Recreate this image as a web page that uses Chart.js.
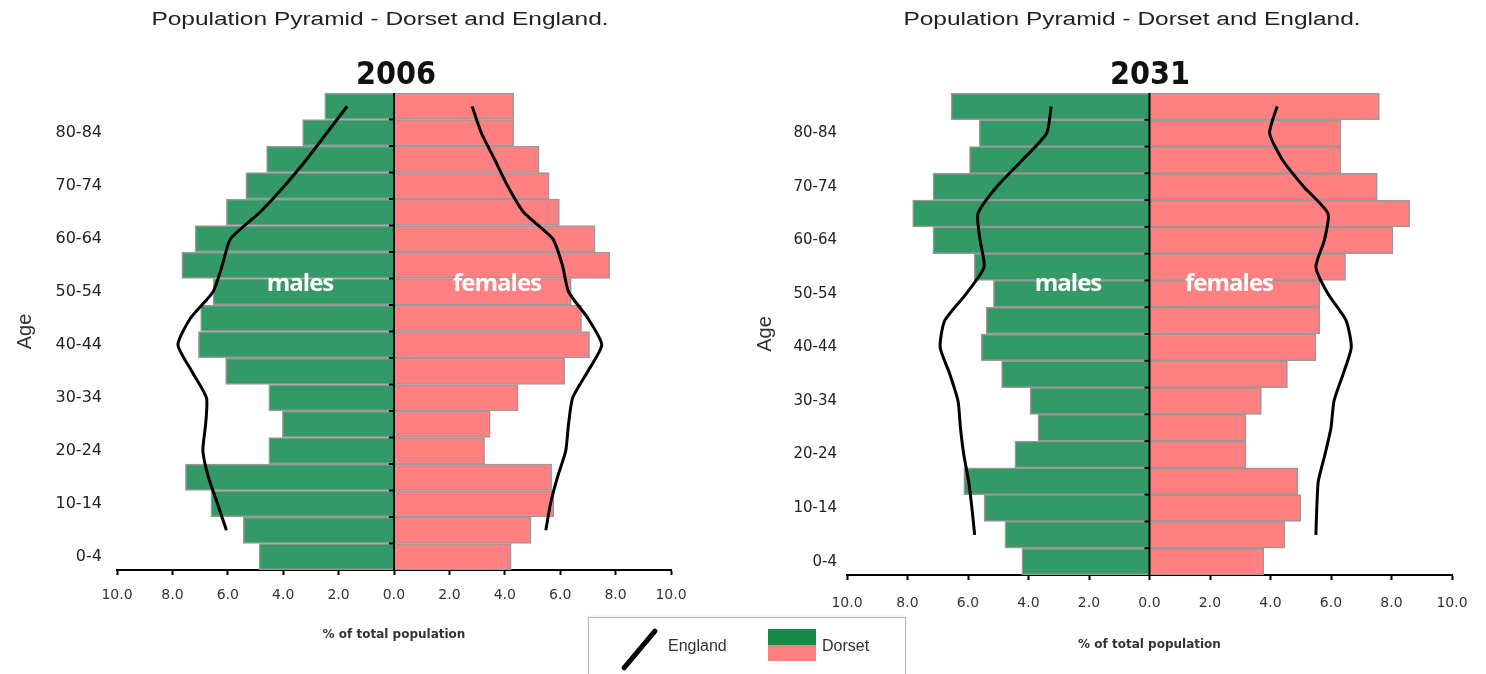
<!DOCTYPE html>
<html lang="en">
<head>
  <meta charset="UTF-8">
  <title>Population Pyramid - Dorset and England</title>
  <script src="https://cdn.jsdelivr.net/npm/chart.js"></script>
  <style>
    body {
      margin: 0;
      width: 1486px;
      height: 674px;
      background: #fff;
      position: relative;
      overflow: hidden;
      font-family: 'Liberation Sans', Arial, sans-serif;
      color: #222;
    }
    .panel {
      position: absolute;
      top: 0;
      width: 743px;
      height: 674px;
    }
    .txt {
      position: absolute;
      white-space: nowrap;
      transform: translateX(-50%);
    }
    .title {
      font-size: 18px;
      top: 9px;
      transform: translateX(-50%) scaleX(1.36);
    }
    .year {
      font-family: 'Liberation Sans Narrow', 'DejaVu Sans Condensed', sans-serif;
      font-weight: bold;
      font-size: 32px;
      top: 54px;
      color: #111;
    }
    .sex {
      font-family: 'Open Sans', sans-serif;
      font-weight: bold;
      font-size: 24px;
      color: #fff;
      top: 265px;
      letter-spacing: -1px;
    }
    .legend {
      position: absolute;
      left: 588px;
      top: 617px;
      width: 316px;
      height: 70px;
      border: 1px solid #b8b8b8;
      box-shadow: 0 -1px 2px rgba(0,0,0,0.08);
    }
  </style>
</head>
<body>

  <div class="panel" id="leftPanel" style="left:0"><canvas id="chart2006"></canvas></div>
  <div class="panel" id="rightPanel" style="left:743px"><canvas id="chart2031"></canvas></div>

  <div class="txt title" style="left:380px">Population Pyramid - Dorset and England.</div>
  <div class="txt title" style="left:1132px">Population Pyramid - Dorset and England.</div>
  <div class="txt year" style="left:396px">2006</div>
  <div class="txt year" style="left:1150px">2031</div>
  <div class="txt sex" style="left:300px">males</div>
  <div class="txt sex" style="left:497px">females</div>
  <div class="txt sex" style="left:1068px">males</div>
  <div class="txt sex" style="left:1229px">females</div>

  <div class="legend"></div>
  <div style="position:absolute;left:613px;top:647px;width:53px;height:5px;background:#000;border-radius:3px;transform:rotate(-50deg)"></div>
  <span style="position:absolute;left:668px;top:637px;font-size:16px;color:#333">England</span>
  <div style="position:absolute;left:768px;top:629px;width:48px;height:16px;background:#168a46"></div>
  <div style="position:absolute;left:768px;top:645px;width:48px;height:16px;background:#ff8080"></div>
  <span style="position:absolute;left:822px;top:637px;font-size:16px;color:#333">Dorset</span>

  <script>
    const ageGroups = ['0-4', '5-9', '10-14', '15-19', '20-24', '25-29', '30-34', '35-39', '40-44',
                       '45-49', '50-54', '55-59', '60-64', '65-69', '70-74', '75-79', '80-84', '85+'];

    // Dorset, % of total population (males shown to the left)
    const dorsetMales2006   = [4.87, 5.44, 6.61, 7.53, 4.52, 4.03, 4.52, 6.08, 7.06, 6.98, 6.53, 7.66, 7.18, 6.05, 5.35, 4.6, 3.3, 2.5];
    const dorsetFemales2006 = [4.23, 4.95, 5.77, 5.69, 3.27, 3.47, 4.48, 6.16, 7.06, 6.77, 6.4, 7.79, 7.26, 5.97, 5.6, 5.24, 4.32, 4.32];
    const dorsetMales2031   = [4.22, 4.78, 5.47, 6.14, 4.45, 3.69, 3.95, 4.89, 5.56, 5.4, 5.16, 5.8, 7.16, 7.83, 7.16, 5.95, 5.63, 6.56];
    const dorsetFemales2031 = [3.78, 4.48, 5.0, 4.9, 3.19, 3.19, 3.7, 4.56, 5.5, 5.63, 5.63, 6.48, 8.05, 8.6, 7.53, 6.33, 6.33, 7.6];

    // England profile (line), no 0-4 point
    const englandMales2006   = [null, 6.05, 6.37, 6.7, 6.9, 6.8, 6.77, 7.3, 7.8, 7.35, 6.53, 6.2, 5.9, 4.84, 3.95, 3.15, 2.42, 1.69];
    const englandFemales2006 = [null, 5.48, 5.65, 5.9, 6.2, 6.3, 6.45, 7.0, 7.5, 7.0, 6.3, 6.08, 5.73, 4.68, 4.1, 3.63, 3.15, 2.82];
    const englandMales2031   = [null, 5.78, 5.87, 5.98, 6.14, 6.25, 6.33, 6.6, 6.92, 6.77, 6.06, 5.47, 5.6, 5.67, 5.05, 4.2, 3.4, 3.25];
    const englandFemales2031 = [null, 5.5, 5.53, 5.58, 5.8, 6.0, 6.1, 6.4, 6.67, 6.5, 5.9, 5.5, 5.78, 5.9, 5.1, 4.4, 3.97, 4.22];

    const xTicks = [-10, -8, -6, -4, -2, 0, 2, 4, 6, 8, 10];

    const neg = arr => arr.map(v => v === null ? null : -v);

    // black centre line with small marks at each age-band boundary
    const centreLine = {
      id: 'centreLine',
      afterDatasetsDraw(chart) {
        const { ctx, chartArea, scales } = chart;
        const x0 = scales.x.getPixelForValue(0);
        ctx.save();
        ctx.strokeStyle = '#000';
        ctx.lineWidth = 2;
        ctx.beginPath();
        ctx.moveTo(x0, chartArea.top);
        ctx.lineTo(x0, chartArea.bottom);
        ctx.stroke();
        for (let i = 0; i < ageGroups.length - 1; i++) {
          const yb = (scales.y.getPixelForValue(i) + scales.y.getPixelForValue(i + 1)) / 2;
          ctx.beginPath();
          ctx.moveTo(x0 - 5, yb);
          ctx.lineTo(x0, yb);
          ctx.stroke();
        }
        ctx.restore();
      }
    };

    function makePyramid(id, males, females, engM, engF, opt) {
      const ctx = document.getElementById(id).getContext('2d');
      return new Chart(ctx, {
        type: 'bar',
        data: {
          labels: ageGroups,
          datasets: [
            { type: 'line', label: 'England', data: neg(engM), borderColor: '#000', borderWidth: 3,
              pointRadius: 0, tension: 0.2, fill: false, order: 0 },
            { type: 'line', label: 'England', data: engF, borderColor: '#000', borderWidth: 3,
              pointRadius: 0, tension: 0.2, fill: false, order: 0 },
            { label: 'Dorset males', data: neg(males), backgroundColor: '#339966', borderColor: '#999',
              borderWidth: 1.5, barPercentage: 1, categoryPercentage: 1, grouped: false, order: 1 },
            { label: 'Dorset females', data: females, backgroundColor: '#ff8080', borderColor: '#999',
              borderWidth: 1.5, barPercentage: 1, categoryPercentage: 1, grouped: false, order: 1 }
          ]
        },
        options: {
          indexAxis: 'y',
          responsive: true,
          maintainAspectRatio: false,
          animation: false,
          layout: { padding: { top: 93, bottom: opt.padBottom, left: 0, right: opt.padRight } },
          plugins: { legend: { display: false }, tooltip: { enabled: false } },
          scales: {
            x: {
              min: -10,
              max: 10,
              afterBuildTicks: s => { s.ticks = xTicks.map(v => ({ value: v })); },
              ticks: {
                callback: v => Math.abs(v).toFixed(1),
                font: { family: 'DejaVu Sans', size: 14 },
                color: '#333',
                padding: opt.xTickPad,
                maxRotation: 0
              },
              grid: { drawOnChartArea: false, drawTicks: true, tickLength: 5, tickColor: '#000', tickWidth: 2 },
              border: { color: '#000', width: 2 },
              title: {
                display: true,
                text: '% of total population',
                font: { family: 'DejaVu Sans', size: 12, weight: 'bold' },
                color: '#333',
                padding: { top: 0, bottom: opt.titlePadBottom }
              },
              afterFit: s => { s.height = 80; }
            },
            y: {
              reverse: true,
              grid: { display: false, drawTicks: false },
              border: { display: false },
              ticks: {
                autoSkip: false,
                callback: (v, i) => (i % 2 === 0 ? ageGroups[i] : ''),
                font: { family: 'DejaVu Sans', size: opt.yFont },
                color: '#222',
                padding: opt.yTickPad
              },
              title: {
                display: true,
                text: 'Age',
                font: { family: 'Liberation Sans', size: 20 },
                color: '#333',
                padding: { top: opt.agePad, bottom: 0 }
              },
              afterFit: s => { s.width = opt.yWidth; }
            }
          }
        },
        plugins: [centreLine]
      });
    }

    makePyramid('chart2006', dorsetMales2006, dorsetFemales2006, englandMales2006, englandFemales2006,
      { padBottom: 24, padRight: 72, yWidth: 117, yTickPad: 15, yFont: 16, agePad: 13, xTickPad: 12, titlePadBottom: 8 });
    makePyramid('chart2031', dorsetMales2031, dorsetFemales2031, englandMales2031, englandFemales2031,
      { padBottom: 19, padRight: 34, yWidth: 104, yTickPad: 10, yFont: 15, agePad: 10, xTickPad: 15, titlePadBottom: 3 });
  </script>

</body>
</html>
